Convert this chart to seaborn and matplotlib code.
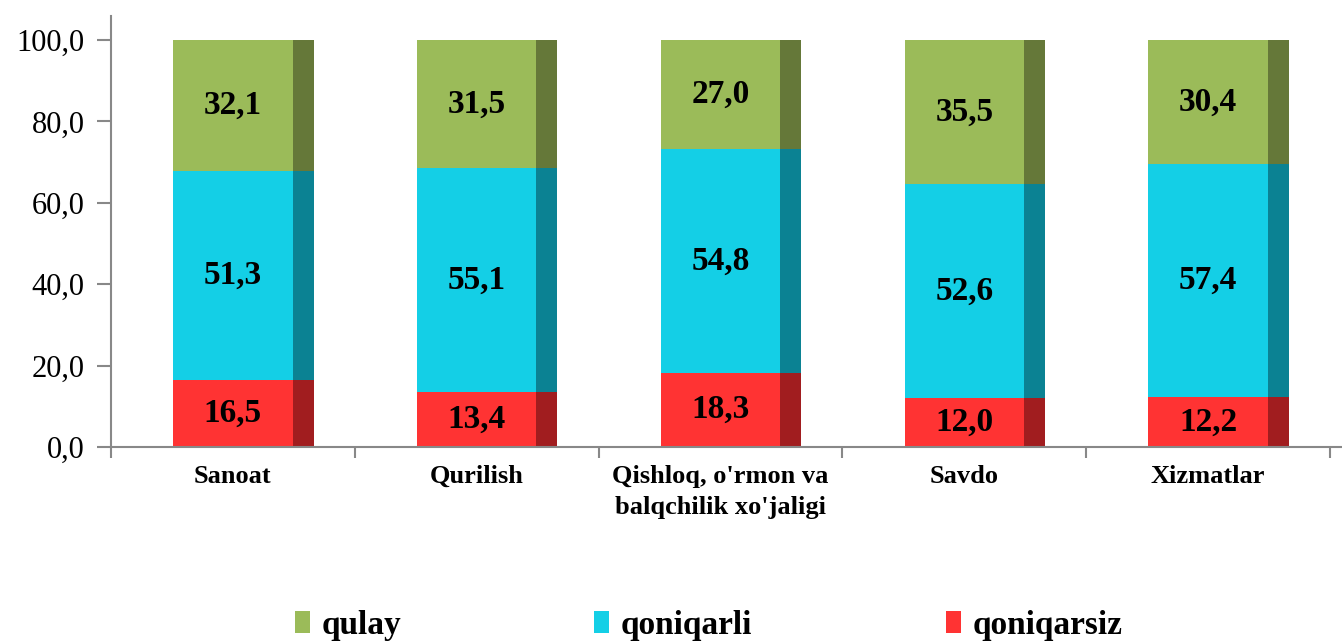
import matplotlib
matplotlib.use("Agg")
import matplotlib.pyplot as plt
from matplotlib.patches import Patch, Rectangle
from matplotlib.ticker import FuncFormatter, FixedLocator
import seaborn as sns
import pandas as pd
import numpy as np

# data
categories = ["Sanoat", "Qurilish", "Qishloq, o'rmon va\nbalqchilik xo'jaligi", "Savdo", "Xizmatlar"]
qoniqarsiz = [16.5, 13.4, 18.3, 12.0, 12.2]
qoniqarli = [51.3, 55.1, 54.8, 52.6, 57.4]
qulay = [32.1, 31.5, 27.0, 35.5, 30.4]
y_ticks = [0, 20, 40, 60, 80, 100]

series_names = ["qoniqarsiz", "qoniqarli", "qulay"]
front_colors = {"qoniqarsiz": "#FF3333", "qoniqarli": "#14CFE6", "qulay": "#9BBB59"}
side_colors = {"qoniqarsiz": "#A11D1F", "qoniqarli": "#0B8293", "qulay": "#657839"}

sns.set_style("white")
plt.rcParams['font.family'] = ['Liberation Serif', 'DejaVu Serif']
plt.rcParams['text.color'] = 'black'
plt.rcParams['xtick.labelcolor'] = 'black'
plt.rcParams['ytick.labelcolor'] = 'black'

df = pd.DataFrame({"cat": categories, "qoniqarsiz": qoniqarsiz,
                   "qoniqarli": qoniqarli, "qulay": qulay})
df["top_qoniqarsiz"] = df["qoniqarsiz"]
df["top_qoniqarli"] = df["qoniqarsiz"] + df["qoniqarli"]
df["top_qulay"] = df["top_qoniqarli"] + df["qulay"]

fig = plt.figure(figsize=(13.42, 6.42), dpi=100)
ax = fig.add_axes([111 / 1342, 1 - 447 / 642, 1 - 111 / 1342, (447 - 16) / 642])

front_w = 0.49
side_w = 0.086

# draw from tallest cumulative layer down so lower segments overwrite
for name in reversed(series_names):
    n_before = len(ax.patches)
    sns.barplot(data=df, x="cat", y="top_" + name, order=categories,
                color=front_colors[name], width=front_w, errorbar=None,
                saturation=1, linewidth=0, ax=ax)
    new_bars = ax.patches[n_before:]
    for p in new_bars:
        ax.add_patch(Rectangle((p.get_x() + p.get_width(), p.get_y()), side_w,
                               p.get_height(), facecolor=side_colors[name],
                               linewidth=0, zorder=p.get_zorder()))

# value labels in the middle of each segment
for i in range(len(categories)):
    base = 0.0
    for name in series_names:
        v = df[name][i]
        ax.text(i, base + v / 2, f"{v:.1f}".replace(".", ","), ha="center",
                va="center", fontsize=24, fontweight="bold", color="black", zorder=5)
        base += v

ax.set_xlim(-0.5, 4.549)
ax.set_ylim(0, 105.9)
ax.set_xlabel("")
ax.set_ylabel("")

ax.yaxis.set_major_locator(FixedLocator(y_ticks))
ax.yaxis.set_major_formatter(FuncFormatter(lambda v, pos: f"{v:.1f}".replace(".", ",")))
ax.tick_params(axis="y", direction="out", length=10, width=1.5, color="#888888",
               labelsize=22, pad=9, left=True)

ax.set_xticks(range(len(categories)))
ax.set_xticklabels(categories, fontsize=19, fontweight="bold", linespacing=1.45)
ax.tick_params(axis="x", which="major", length=0, pad=13)
ax.xaxis.set_minor_locator(FixedLocator(np.arange(-0.5, 5, 1.0)))
ax.tick_params(axis="x", which="minor", direction="out", length=8, width=1.5,
               color="#888888", bottom=True)

for s in ["top", "right"]:
    ax.spines[s].set_visible(False)
for s in ["left", "bottom"]:
    ax.spines[s].set_color("#888888")
    ax.spines[s].set_linewidth(1.5)

handles = [Patch(facecolor=front_colors[n], edgecolor="none", label=n)
           for n in ["qulay", "qoniqarli", "qoniqarsiz"]]
leg = fig.legend(handles=handles, loc="lower center", bbox_to_anchor=(0.528, -0.045),
                 ncol=3, frameon=False, handlelength=0.45, handleheight=0.65,
                 handletextpad=0.35, columnspacing=5.8,
                 prop={"family": "Liberation Serif", "weight": "bold", "size": 24})

fig.savefig("out.png", dpi=100)
